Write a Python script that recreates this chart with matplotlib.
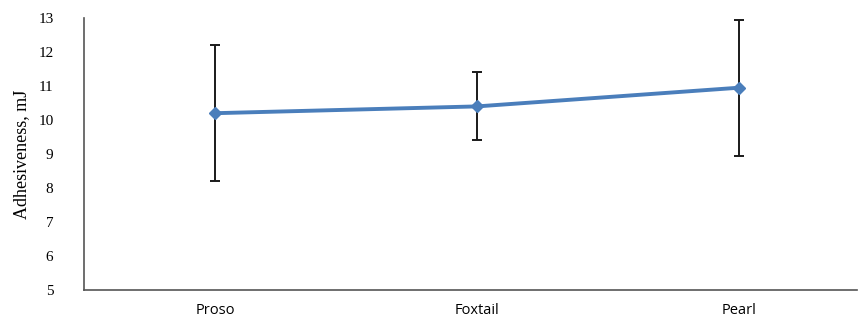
import numpy as np
import matplotlib.pyplot as plt

cultivars = ["Proso", "Foxtail", "Pearl"]
adhesiveness = [10.2, 10.4, 10.95]
sd = [2.0, 1.0, 2.0]

yticks = [5, 6, 7, 8, 9, 10, 11, 12, 13]


def main():
    fig = plt.figure(figsize=(8.59, 3.22), dpi=100)
    ax = fig.add_axes([84/859, 32/322, 773/859, 272/322])

    x = np.arange(len(cultivars))
    ax.errorbar(x, adhesiveness, yerr=sd, fmt="none", ecolor="#1a1a1a",
                elinewidth=1.4, capsize=3.5, capthick=1.4, zorder=2)
    ax.plot(x, adhesiveness, color="#4a7ebb", lw=2.8, marker="D",
            ms=6, zorder=3)

    ax.set_xlim(-0.5, 2.45)
    ax.set_ylim(5, 13)
    ax.set_yticks(yticks)
    ax.set_yticklabels([str(v) for v in yticks], family="Liberation Serif",
                       fontsize=11)
    ax.set_xticks(x)
    ax.set_xticklabels(cultivars, family="Open Sans", fontsize=10.5)
    ax.tick_params(axis="both", length=0)
    ax.tick_params(axis="y", pad=22)
    ax.tick_params(axis="x", pad=9)
    ax.set_ylabel("Adhesiveness, mJ", family="Liberation Serif", fontsize=13,
                  labelpad=6)

    for side in ["top", "right"]:
        ax.spines[side].set_visible(False)
    for side in ["left", "bottom"]:
        ax.spines[side].set_color("#555555")
        ax.spines[side].set_linewidth(1.2)

    fig.savefig("out.png", dpi=100)


if __name__ == "__main__":
    main()
